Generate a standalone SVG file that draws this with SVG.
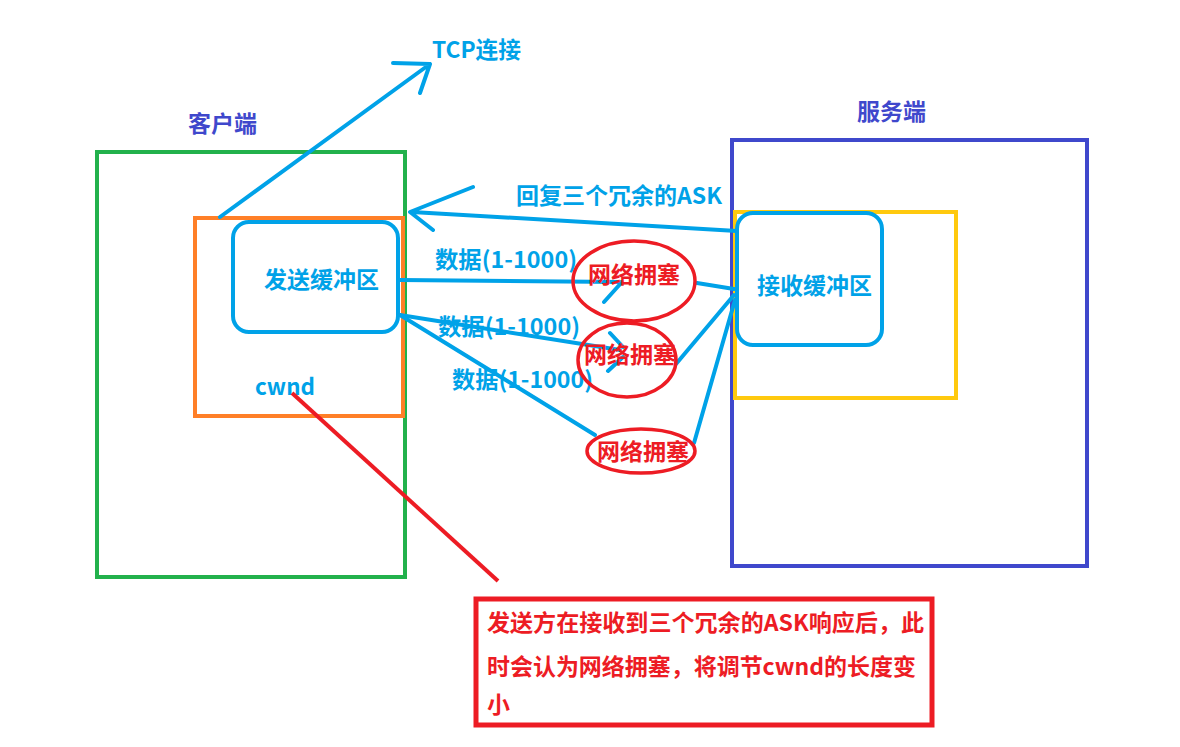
<svg xmlns="http://www.w3.org/2000/svg" width="1180" height="747" viewBox="0 0 1180 747">
<style>
text{font-family:"Noto Sans CJK SC","Noto Sans",sans-serif;font-weight:bold;font-size:23px}
.b{fill:#00a2e8}.d{fill:#3f48cc}.r{fill:#ed1c24}
.bl{stroke:#00a2e8;stroke-width:4;fill:none;stroke-linecap:round;stroke-linejoin:round}
.rl{stroke:#ed1c24;fill:none}
</style>
<rect width="1180" height="747" fill="#fff"/>
<g id="client">
<rect x="97" y="152" width="308" height="425" fill="none" stroke="#22b14c" stroke-width="4"/>
<text x="188" y="132" class="d">客户端</text>
</g>
<g id="cwnd-box">
<rect x="195" y="218" width="208" height="198" fill="none" stroke="#ff7f27" stroke-width="4"/>
<text x="255" y="395" class="b" textLength="60" lengthAdjust="spacingAndGlyphs">cwnd</text>
</g>
<g id="send-buffer">
<rect x="233" y="222" width="165" height="110" rx="16" class="bl"/>
<text x="264" y="288" class="b">发送缓冲区</text>
</g>
<g id="server">
<rect x="732" y="140" width="355" height="426" fill="none" stroke="#3f48cc" stroke-width="4"/>
<text x="857" y="120" class="d">服务端</text>
</g>
<g id="recv-window">
<rect x="735" y="212" width="221" height="186" fill="none" stroke="#ffc90e" stroke-width="4"/>
</g>
<g id="recv-buffer">
<rect x="737" y="213" width="145" height="132" rx="16" class="bl"/>
<text x="757" y="294" class="b">接收缓冲区</text>
</g>
<g id="tcp-label"><text x="432" y="58" class="b" textLength="89" lengthAdjust="spacingAndGlyphs">TCP连接</text></g>
<g id="ask-label"><text x="516" y="204" class="b" textLength="206" lengthAdjust="spacingAndGlyphs">回复三个冗余的ASK</text></g>
<g id="data-labels">
<text x="435" y="268" class="b" textLength="142" lengthAdjust="spacingAndGlyphs">数据(1-1000)</text>
<text x="438" y="335" class="b" textLength="142" lengthAdjust="spacingAndGlyphs">数据(1-1000)</text>
<text x="452" y="388" class="b" textLength="141" lengthAdjust="spacingAndGlyphs">数据(1-1000)</text>
</g>
<g id="connectors">
<path class="bl" d="M220 217 L430 64 M393 63 L430 64 L420 93"/>
<path class="bl" d="M737 231 L412 212 M473 187 L410 212 L433 230"/>
<path class="bl" d="M400 280 L620 282 M604 302 L622 282 M697 283 L734 289"/>
<path class="bl" d="M400 315 L620 350 M610 333 L623 347 M608 371 L623 357 M676 364 L734 295"/>
<path class="bl" d="M400 315 L595 435 M694 443 L735 300"/>
<path d="M292 393 L498 581" stroke="#ed1c24" stroke-width="4"/>
</g>
<g id="congestion-1">
<ellipse cx="634" cy="281" rx="61" ry="40" class="rl" stroke-width="3.5"/>
<text x="588" y="283" class="r">网络拥塞</text>
</g>
<g id="congestion-2">
<ellipse cx="627" cy="360" rx="49" ry="37" class="rl" stroke-width="3.5"/>
<text x="584" y="363" class="r">网络拥塞</text>
</g>
<g id="congestion-3">
<ellipse cx="641" cy="451" rx="54" ry="22" class="rl" stroke-width="3.5"/>
<text x="597" y="460" class="r">网络拥塞</text>
</g>
<g id="note">
<rect x="476" y="599" width="456" height="126" fill="none" stroke="#ed1c24" stroke-width="5"/>
<text class="r" x="487" y="631" textLength="437" lengthAdjust="spacingAndGlyphs">发送方在接收到三个冗余的ASK响应后，此</text>
<text class="r" x="487" y="675" textLength="429" lengthAdjust="spacingAndGlyphs">时会认为网络拥塞，将调节cwnd的长度变</text>
<text class="r" x="487" y="713">小</text>
</g>
</svg>
